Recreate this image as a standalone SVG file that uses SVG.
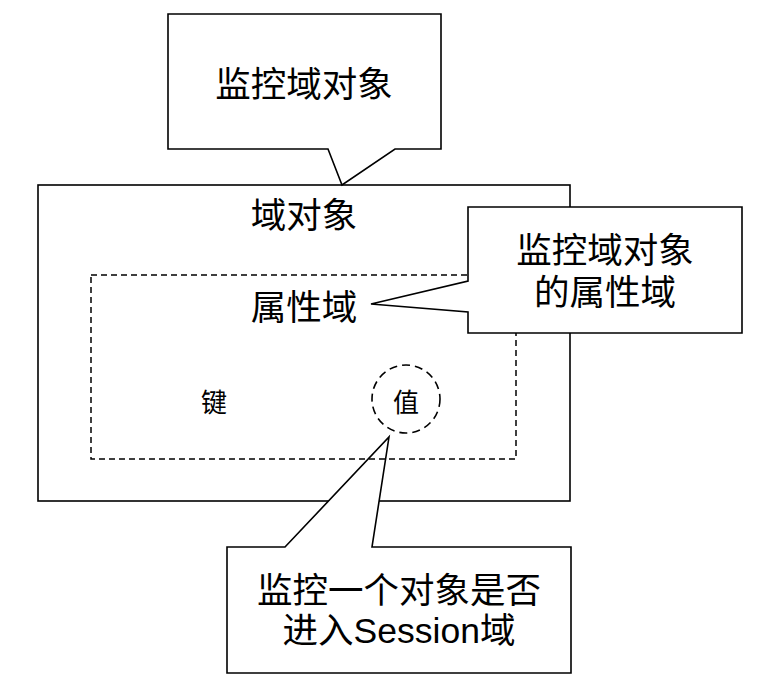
<svg xmlns="http://www.w3.org/2000/svg" width="763" height="684" viewBox="0 0 763 684">
<style>
.s{fill:#fff;stroke:#000;stroke-width:1.6}
.n{fill:none;stroke:#000;stroke-width:1.6}
.d{fill:none;stroke:#000;stroke-width:1.5;stroke-dasharray:6 4}
.c{fill:#fff;stroke:#000;stroke-width:1.6;stroke-dasharray:8 5}
text{font-family:"Liberation Sans","Noto Sans CJK SC",sans-serif;fill:#000;text-anchor:middle}
.l{font-size:35.5px}
.m{font-size:26px}
</style>
<rect width="763" height="684" fill="#fff"/>
<g id="domain-object">
<rect class="n" x="38" y="185" width="532" height="316"/>
<text class="l" x="304" y="228">域对象</text>
</g>
<g id="callout-session">
<path class="s" d="M227,547 L285,547 L389,437 L372,547 L571,547 L571,673 L227,673 Z"/>
<text class="l" x="399" y="603">监控一个对象是否</text>
<text class="l" x="399" y="643">进入Session域</text>
</g>
<g id="attribute-domain">
<rect class="d" x="91" y="275" width="425" height="184"/>
<text class="l" x="304" y="320">属性域</text>
</g>
<g id="key">
<text class="m" x="214" y="412">键</text>
</g>
<g id="value">
<circle class="c" cx="406" cy="399" r="34"/>
<text class="m" x="406" y="412">值</text>
</g>
<g id="callout-domain">
<path class="s" d="M168,14 L441,14 L441,149 L395,149 L342,185 L328,149 L168,149 Z"/>
<text class="l" x="304" y="97">监控域对象</text>
</g>
<g id="callout-attr">
<path class="s" d="M468,207 L742,207 L742,333 L468,333 L468,312 L371,304 L468,281 Z"/>
<text class="l" x="605" y="263">监控域对象</text>
<text class="l" x="605" y="305">的属性域</text>
</g>
<g id="connectors"></g>
</svg>
